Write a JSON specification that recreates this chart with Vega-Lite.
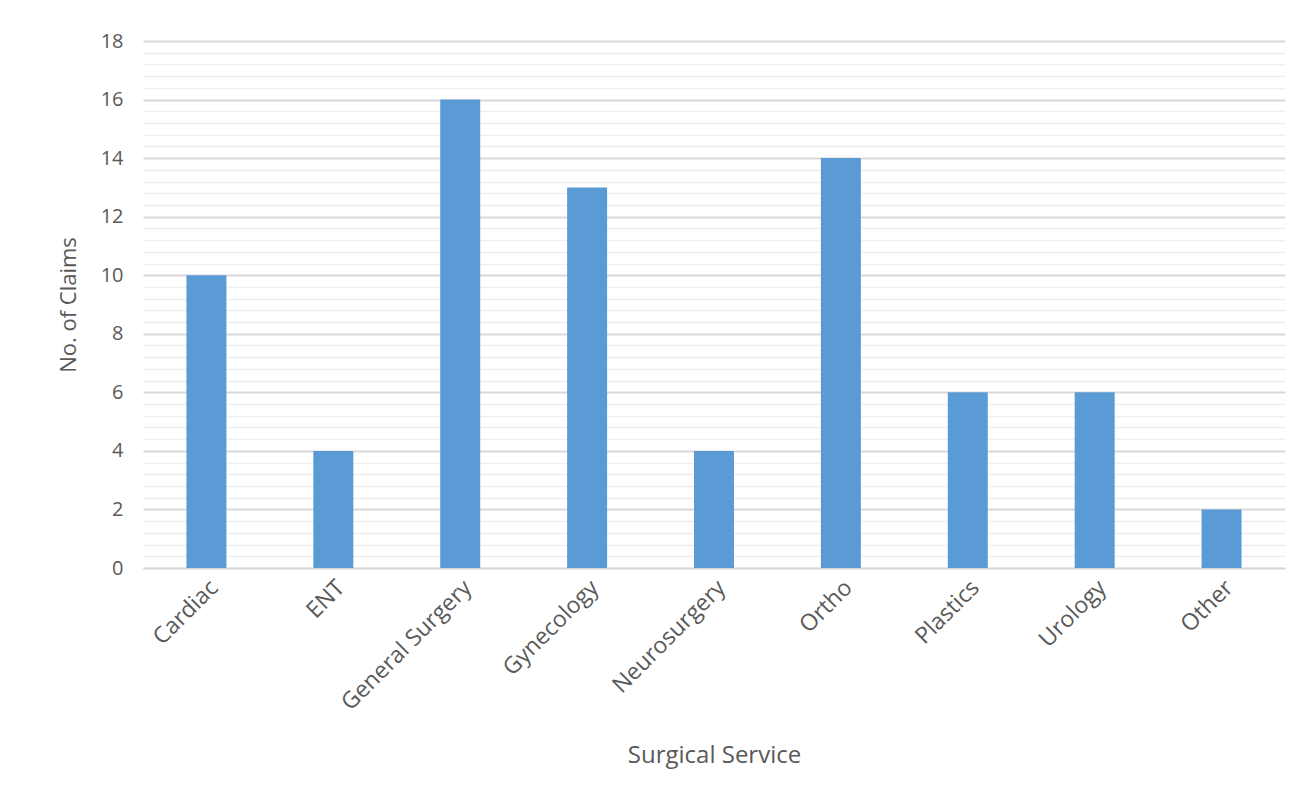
{
  "$schema": "https://vega.github.io/schema/vega-lite/v6.json",
  "width": 1142,
  "height": 527,
  "autosize": {"type": "none"},
  "padding": {"left": 143, "top": 41, "right": 14, "bottom": 233},
  "background": "white",
  "config": {
    "view": {"stroke": null},
    "font": "Open Sans"
  },
  "data": {
    "values": [
      {"service": "Cardiac", "claims": 10},
      {"service": "ENT", "claims": 4},
      {"service": "General Surgery", "claims": 16},
      {"service": "Gynecology", "claims": 13},
      {"service": "Neurosurgery", "claims": 4},
      {"service": "Ortho", "claims": 14},
      {"service": "Plastics", "claims": 6},
      {"service": "Urology", "claims": 6},
      {"service": "Other", "claims": 2}
    ]
  },
  "mark": {"type": "bar", "color": "#5B9BD5"},
  "encoding": {
    "x": {
      "field": "service",
      "type": "nominal",
      "sort": null,
      "scale": {"paddingInner": 0.685, "paddingOuter": 0.3425},
      "axis": {
        "title": "Surgical Service",
        "titleFont": "Open Sans",
        "titleFontSize": 24,
        "titleFontWeight": "normal",
        "titleColor": "#595959",
        "titleY": 187,
        "titleBaseline": "middle",
        "labelAngle": -45,
        "labelAlign": "right",
        "labelBaseline": "top",
        "labelFontSize": 23,
        "labelColor": "#595959",
        "labelPadding": 8,
        "ticks": false,
        "domainColor": "#d9d9d9",
        "domainWidth": 1.5
      }
    },
    "y": {
      "field": "claims",
      "type": "quantitative",
      "scale": {"domain": [0, 18], "nice": false},
      "axis": {
        "title": "No. of Claims",
        "titleFont": "Open Sans",
        "titleFontSize": 22,
        "titleFontWeight": "normal",
        "titleColor": "#595959",
        "titleX": -75,
        "titleY": 263.5,
        "titleAlign": "center",
        "titleBaseline": "middle",
        "values": [0, 0.4, 0.8, 1.2, 1.6, 2, 2.4, 2.8, 3.2, 3.6, 4, 4.4, 4.8, 5.2, 5.6, 6, 6.4, 6.8, 7.2, 7.6, 8, 8.4, 8.8, 9.2, 9.6, 10, 10.4, 10.8, 11.2, 11.6, 12, 12.4, 12.8, 13.2, 13.6, 14, 14.4, 14.8, 15.2, 15.6, 16, 16.4, 16.8, 17.2, 17.6, 18],
        "labelExpr": "datum.value % 2 == 0 ? datum.value : ''",
        "labelFontSize": 20,
        "labelColor": "#595959",
        "labelPadding": 20,
        "ticks": false,
        "domain": false,
        "grid": true,
        "gridColor": {"condition": {"test": "datum.value % 2 == 0", "value": "#d9d9d9"}, "value": "#eeeeee"},
        "gridWidth": {"condition": {"test": "datum.value % 2 == 0", "value": 2}, "value": 1.5}
      }
    }
  }
}
